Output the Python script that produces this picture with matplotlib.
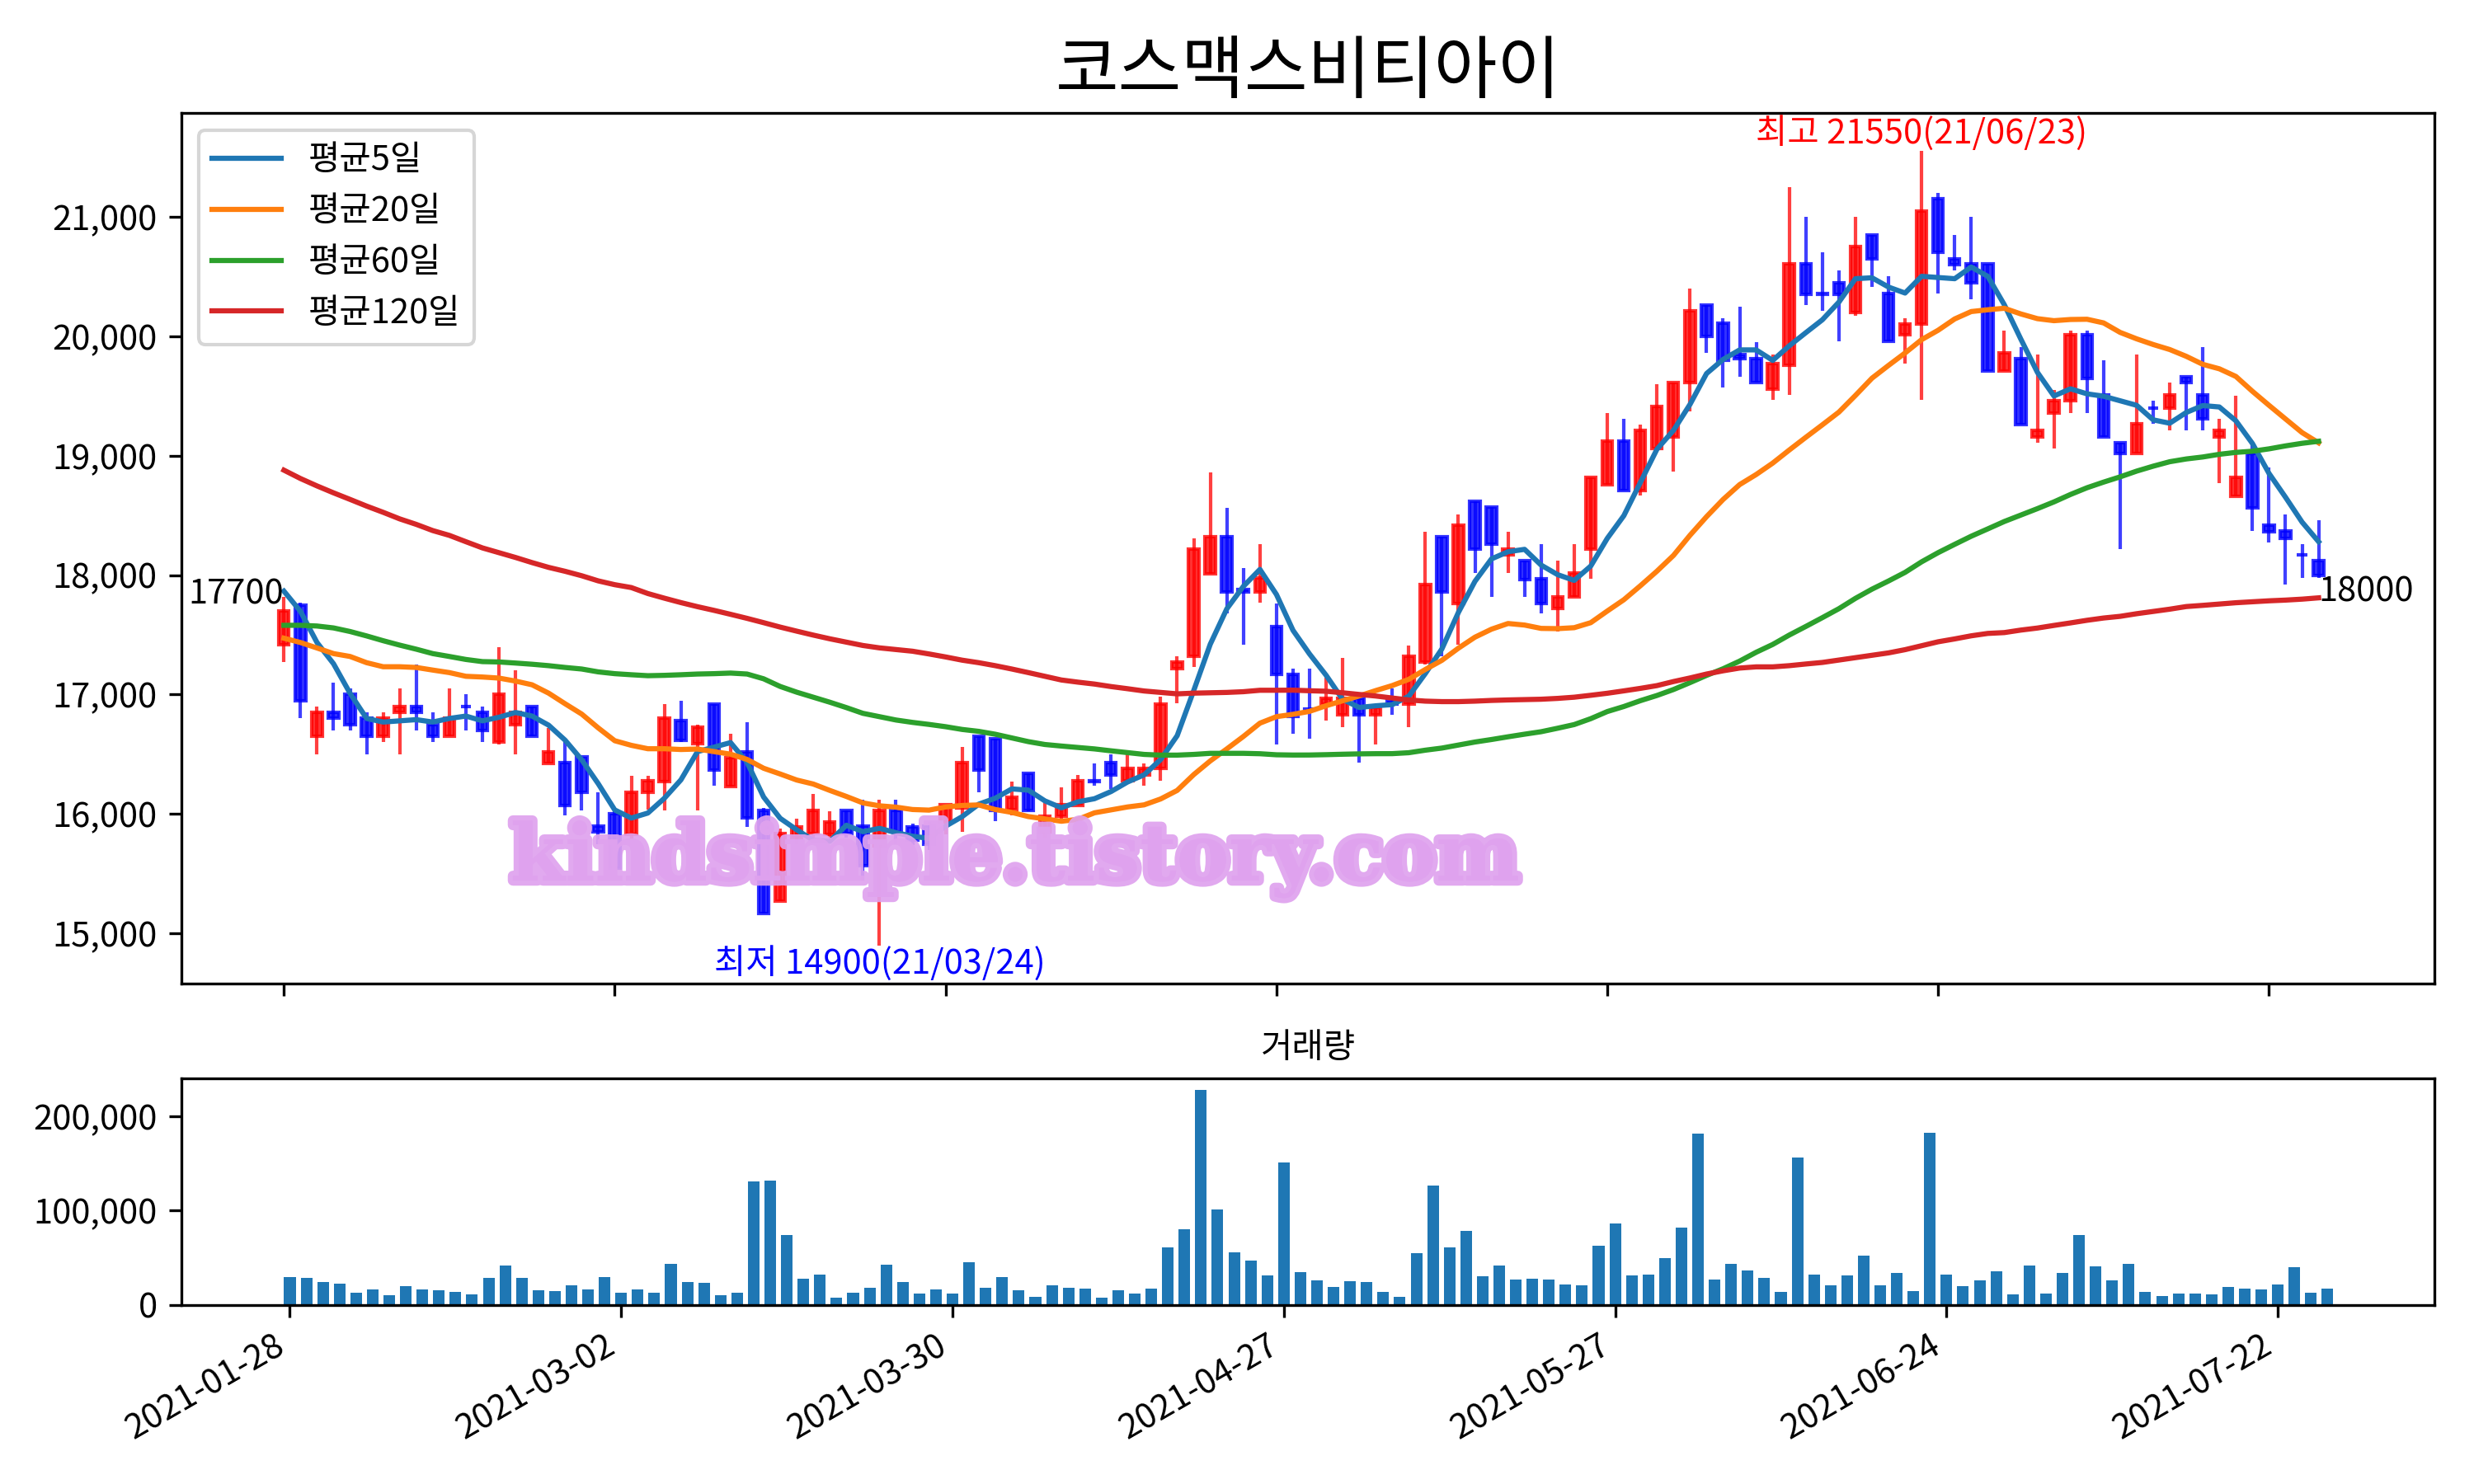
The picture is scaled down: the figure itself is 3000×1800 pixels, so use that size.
import numpy as np
import matplotlib
matplotlib.use('Agg')
import matplotlib.pyplot as plt
import matplotlib.patheffects as pe
from matplotlib.ticker import FuncFormatter

plt.rcParams['font.family'] = ['Noto Sans CJK KR', 'DejaVu Sans']
plt.rcParams['axes.unicode_minus'] = False

title = '코스맥스비티아이'
tick_pos = [0, 20, 40, 60, 80, 100, 120]
tick_labels = ['2021-01-28', '2021-03-02', '2021-03-30', '2021-04-27',
               '2021-05-27', '2021-06-24', '2021-07-22']
high_date = '21/06/23'
low_date = '21/03/24'

opens = [17420, 17750, 16650, 16850, 17000, 16800, 16650, 16850, 16900, 16750,
         16650, 16900, 16850, 16600, 16750, 16900, 16420, 16430, 16480, 15900,
         16000, 15830, 16180, 16270, 16780, 16590, 16920, 16230, 16520, 16030,
         15270, 15800, 15840, 15830, 16030, 15900, 15730, 16030, 15890, 15900,
         15930, 16050, 16650, 16630, 16040, 16340, 15850, 15980, 16070, 16280,
         16430, 16280, 16330, 16380, 17220, 17320, 18010, 18320, 17880, 17860,
         17570, 17170, 16880, 16920, 16830, 16970, 16830, 16950, 16920, 17270,
         18320, 17760, 18620, 18570, 18170, 18120, 17970, 17720, 17820, 18220,
         18760, 19120, 18710, 19060, 19160, 19610, 20260, 20110, 19850, 19810,
         19560, 19760, 20610, 20360, 20450, 20200, 20850, 20360, 20010, 20100,
         21150, 20650, 20610, 20610, 19710, 19810, 19160, 19360, 19460, 20010,
         19510, 19110, 19020, 19400, 19400, 19660, 19510, 19160, 18660, 19020,
         18420, 18370, 18170, 18120]
highs = [17820, 17770, 16900, 17100, 17050, 16850, 16850, 17050, 17250, 16850,
         17050, 17000, 16900, 17400, 17200, 16900, 16720, 16600, 16480, 16180,
         16050, 16320, 16320, 16920, 16950, 16750, 16920, 16670, 16770, 16050,
         15880, 15960, 16170, 16020, 16030, 16120, 16120, 16120, 15920, 15930,
         16080, 16560, 16650, 16630, 16270, 16340, 16090, 16220, 16330, 16420,
         16500, 16510, 16420, 16980, 17320, 18310, 18860, 18560, 18060, 18260,
         17760, 17220, 17220, 17140, 17310, 17000, 16890, 17050, 17410, 18360,
         18320, 18510, 18620, 18570, 18360, 18120, 18260, 18120, 18260, 18820,
         19360, 19310, 19260, 19600, 19610, 20400, 20260, 20150, 20250, 19950,
         19850, 21250, 21000, 20700, 20550, 21000, 20850, 20500, 20150, 21550,
         21200, 20850, 21000, 20610, 20050, 19910, 19850, 19550, 20050, 20050,
         19800, 19110, 19850, 19460, 19610, 19660, 19910, 19310, 19500, 19100,
         18900, 18510, 18260, 18460]
lows = [17270, 16800, 16500, 16700, 16700, 16500, 16600, 16500, 16700, 16600,
        16650, 16700, 16600, 16580, 16500, 16650, 16420, 15990, 16030, 15750,
        15540, 15790, 16040, 16030, 16600, 16030, 16240, 16230, 15890, 15170,
        15270, 15750, 15800, 15800, 15800, 15440, 14900, 15750, 15740, 15700,
        15830, 15850, 16180, 15940, 15990, 16020, 15800, 15960, 16070, 16240,
        16210, 16280, 16240, 16280, 16930, 17230, 18010, 17680, 17420, 17770,
        16580, 16670, 16630, 16780, 16730, 16430, 16580, 16830, 16730, 17250,
        17320, 17420, 18020, 17820, 18020, 17820, 17680, 17530, 17820, 17970,
        18760, 18710, 18670, 19060, 18870, 19370, 19860, 19570, 19660, 19610,
        19470, 19510, 20260, 20210, 19960, 20170, 20410, 19960, 19770, 19470,
        20360, 20550, 20310, 19710, 19710, 19260, 19110, 19060, 19360, 19360,
        19160, 18220, 19020, 19270, 19210, 19210, 19210, 18770, 18660, 18370,
        18270, 17920, 17980, 17980]
closes = [17700, 16950, 16850, 16800, 16750, 16650, 16800, 16900, 16850, 16650,
          16800, 16900, 16700, 17000, 16850, 16650, 16520, 16070, 16180, 15850,
          15550, 16180, 16280, 16800, 16620, 16730, 16370, 16470, 15970, 15170,
          15840, 15890, 16030, 15930, 15840, 15570, 16030, 15850, 15780, 15750,
          16080, 16430, 16370, 16030, 16140, 16030, 15980, 16080, 16280, 16270,
          16330, 16380, 16380, 16920, 17270, 18220, 18320, 17860, 17860, 17980,
          17170, 16820, 16870, 16970, 16970, 16830, 16890, 16920, 17320, 17920,
          17860, 18420, 18220, 18260, 18220, 17960, 17760, 17820, 18020, 18820,
          19120, 18710, 19210, 19410, 19610, 20210, 20000, 19800, 19810, 19610,
          19770, 20610, 20350, 20350, 20350, 20750, 20650, 19960, 20100, 21050,
          20700, 20600, 20450, 19710, 19860, 19260, 19210, 19460, 20010, 19650,
          19160, 19020, 19270, 19400, 19510, 19610, 19310, 19210, 18820, 18560,
          18360, 18310, 18170, 18000]
volumes = [29400, 28500, 24100, 22400, 12800, 16300, 10200, 19800, 16300, 15400,
           13700, 11000, 28500, 41600, 28500, 15400, 14500, 20600, 16300, 29400,
           12800, 16300, 12800, 43300, 24100, 23300, 10200, 12800, 130500, 131400,
           73800, 27600, 32000, 7600, 12800, 18000, 42400, 24100, 11900, 16300,
           11900, 45100, 18000, 29400, 15400, 8400, 20600, 18000, 17200, 7600,
           15400, 11900, 17200, 60800, 79900, 228200, 100900, 55500, 46800, 31100,
           150600, 34600, 25900, 18900, 25000, 24100, 13700, 8400, 54700, 126200,
           60800, 78200, 30200, 41600, 26700, 27600, 26700, 21500, 20600, 62500,
           86000, 31100, 32000, 49400, 81700, 181100, 26700, 43300, 36300, 28500,
           13700, 155800, 32000, 20600, 31100, 52000, 20600, 33700, 14500, 182800,
           32000, 19800, 25900, 35500, 11000, 41600, 11900, 33700, 73800, 40700,
           25900, 43300, 13700, 9300, 11900, 11900, 11000, 18900, 17200, 16300,
           21500, 39800, 12800, 17200]

# first days of each average need history from before the chart
ma5_head = [17866, 17697, 17436, 17258]
ma20_head = [17472, 17436, 17390, 17343, 17319, 17267, 17233, 17233, 17227, 17205,
             17184, 17153, 17147, 17138, 17113, 17082, 17012, 16923, 16837]
ma60_head = [17580, 17580, 17574, 17558, 17528, 17491, 17451, 17414, 17380, 17343,
             17319, 17294, 17276, 17273, 17264, 17254, 17242, 17227, 17214, 17190,
             17175, 17166, 17158, 17161, 17166, 17172, 17175, 17180, 17172, 17132,
             17068, 17020, 16978, 16936, 16891, 16843, 16815, 16787, 16767, 16750,
             16731, 16708, 16692, 16668, 16637, 16606, 16582, 16569, 16557, 16545,
             16529, 16514, 16499, 16493, 16493, 16499, 16508, 16508, 16508]
ma120 = [18879, 18809, 18747, 18689, 18634, 18578, 18526, 18471, 18425, 18373,
         18333, 18280, 18228, 18188, 18148, 18105, 18065, 18032, 17995, 17952,
         17920, 17896, 17846, 17807, 17770, 17736, 17705, 17672, 17638, 17602,
         17565, 17531, 17498, 17467, 17439, 17411, 17391, 17377, 17363, 17340,
         17315, 17288, 17267, 17242, 17214, 17184, 17153, 17122, 17104, 17088,
         17067, 17049, 17030, 17018, 17006, 17012, 17015, 17018, 17024, 17036,
         17036, 17037, 17032, 17028, 17015, 17001, 16988, 16971, 16955, 16945,
         16941, 16941, 16945, 16951, 16955, 16958, 16961, 16968, 16978, 16994,
         17011, 17031, 17052, 17075, 17109, 17139, 17172, 17199, 17222, 17232,
         17232, 17242, 17256, 17269, 17289, 17309, 17329, 17349, 17376, 17409,
         17442, 17466, 17492, 17512, 17519, 17540, 17557, 17579, 17600, 17622,
         17641, 17655, 17677, 17696, 17715, 17737, 17747, 17758, 17769, 17777,
         17785, 17791, 17799, 17810]


def movingAverage(values, window, head):
    out = list(head)
    for i in range(len(head), len(values)):
        out.append(sum(values[i - window + 1:i + 1]) / window)
    return out


def drawCandles(ax, x, o, h, l, c):
    o, h, l, c = map(np.asarray, (o, h, l, c))
    colors = np.where(c > o, 'r', 'b')
    ax.vlines(x, l, h, colors=colors, linewidth=1.0, alpha=0.75, zorder=2)
    ax.bar(x, np.abs(c - o), bottom=np.minimum(o, c), width=0.62,
           color=colors, edgecolor=colors, linewidth=1.0, alpha=0.8, zorder=2)


n = len(closes)
x = np.arange(n)
ma5 = movingAverage(closes, 5, ma5_head)
ma20 = movingAverage(closes, 20, ma20_head)
ma60 = movingAverage(closes, 60, ma60_head)

fig = plt.figure(figsize=(10, 6), dpi=300)
ax1 = fig.add_axes([0.0733, 0.3372, 0.9107, 0.5867])
ax2 = fig.add_axes([0.0733, 0.1207, 0.9107, 0.1526])

drawCandles(ax1, x, opens, highs, lows, closes)
ax1.plot(x, ma5, label='평균5일', zorder=3)
ax1.plot(x, ma20, label='평균20일', zorder=3)
ax1.plot(x, ma60, label='평균60일', zorder=3)
ax1.plot(x, ma120, label='평균120일', zorder=3)

# max / min and first / last close labels
iMax = int(np.argmax(highs))
iMin = int(np.argmin(lows))
ax1.text(iMax, highs[iMax], '최고 %d(%s)' % (highs[iMax], high_date),
         color='r', ha='center', va='bottom')
ax1.text(iMin, lows[iMin], '최저 %d(%s)' % (lows[iMin], low_date),
         color='b', ha='center', va='top')
ax1.text(0, closes[0], str(closes[0]), ha='right', va='bottom')
ax1.text(n - 1, closes[-1], str(closes[-1]), ha='left', va='top')

wm_color = '#DFA2EE'
ax1.text(0.37, 0.143, 'kindsimple.tistory.com', transform=ax1.transAxes,
         fontsize=23, family='DejaVu Serif', weight='bold', color=wm_color,
         alpha=0.92, ha='center', va='center', zorder=4,
         path_effects=[pe.withStroke(linewidth=3, foreground=wm_color)])

ax1.set_title(title, fontsize=20)
ax1.set_xlim(-6.2, 130.0)
ax1.set_ylim(14580, 21870)
ax1.set_xticks(tick_pos)
ax1.set_xticklabels([])
ax1.yaxis.set_major_formatter(FuncFormatter(lambda v, p: '{:,.0f}'.format(v)))
ax1.legend(loc='upper left')

ax2.bar(x, volumes, width=0.7, color='#1f77b4')
ax2.set_title('거래량', fontsize=10)
ax2.set_xlim(-6.55, 129.45)
ax2.set_ylim(0, 240000)
ax2.set_yticks([0, 100000, 200000])
ax2.yaxis.set_major_formatter(FuncFormatter(lambda v, p: '{:,.0f}'.format(v)))
ax2.set_xticks(tick_pos)
ax2.set_xticklabels(tick_labels, rotation=30, ha='right')

fig.savefig('out.png', dpi=300)
